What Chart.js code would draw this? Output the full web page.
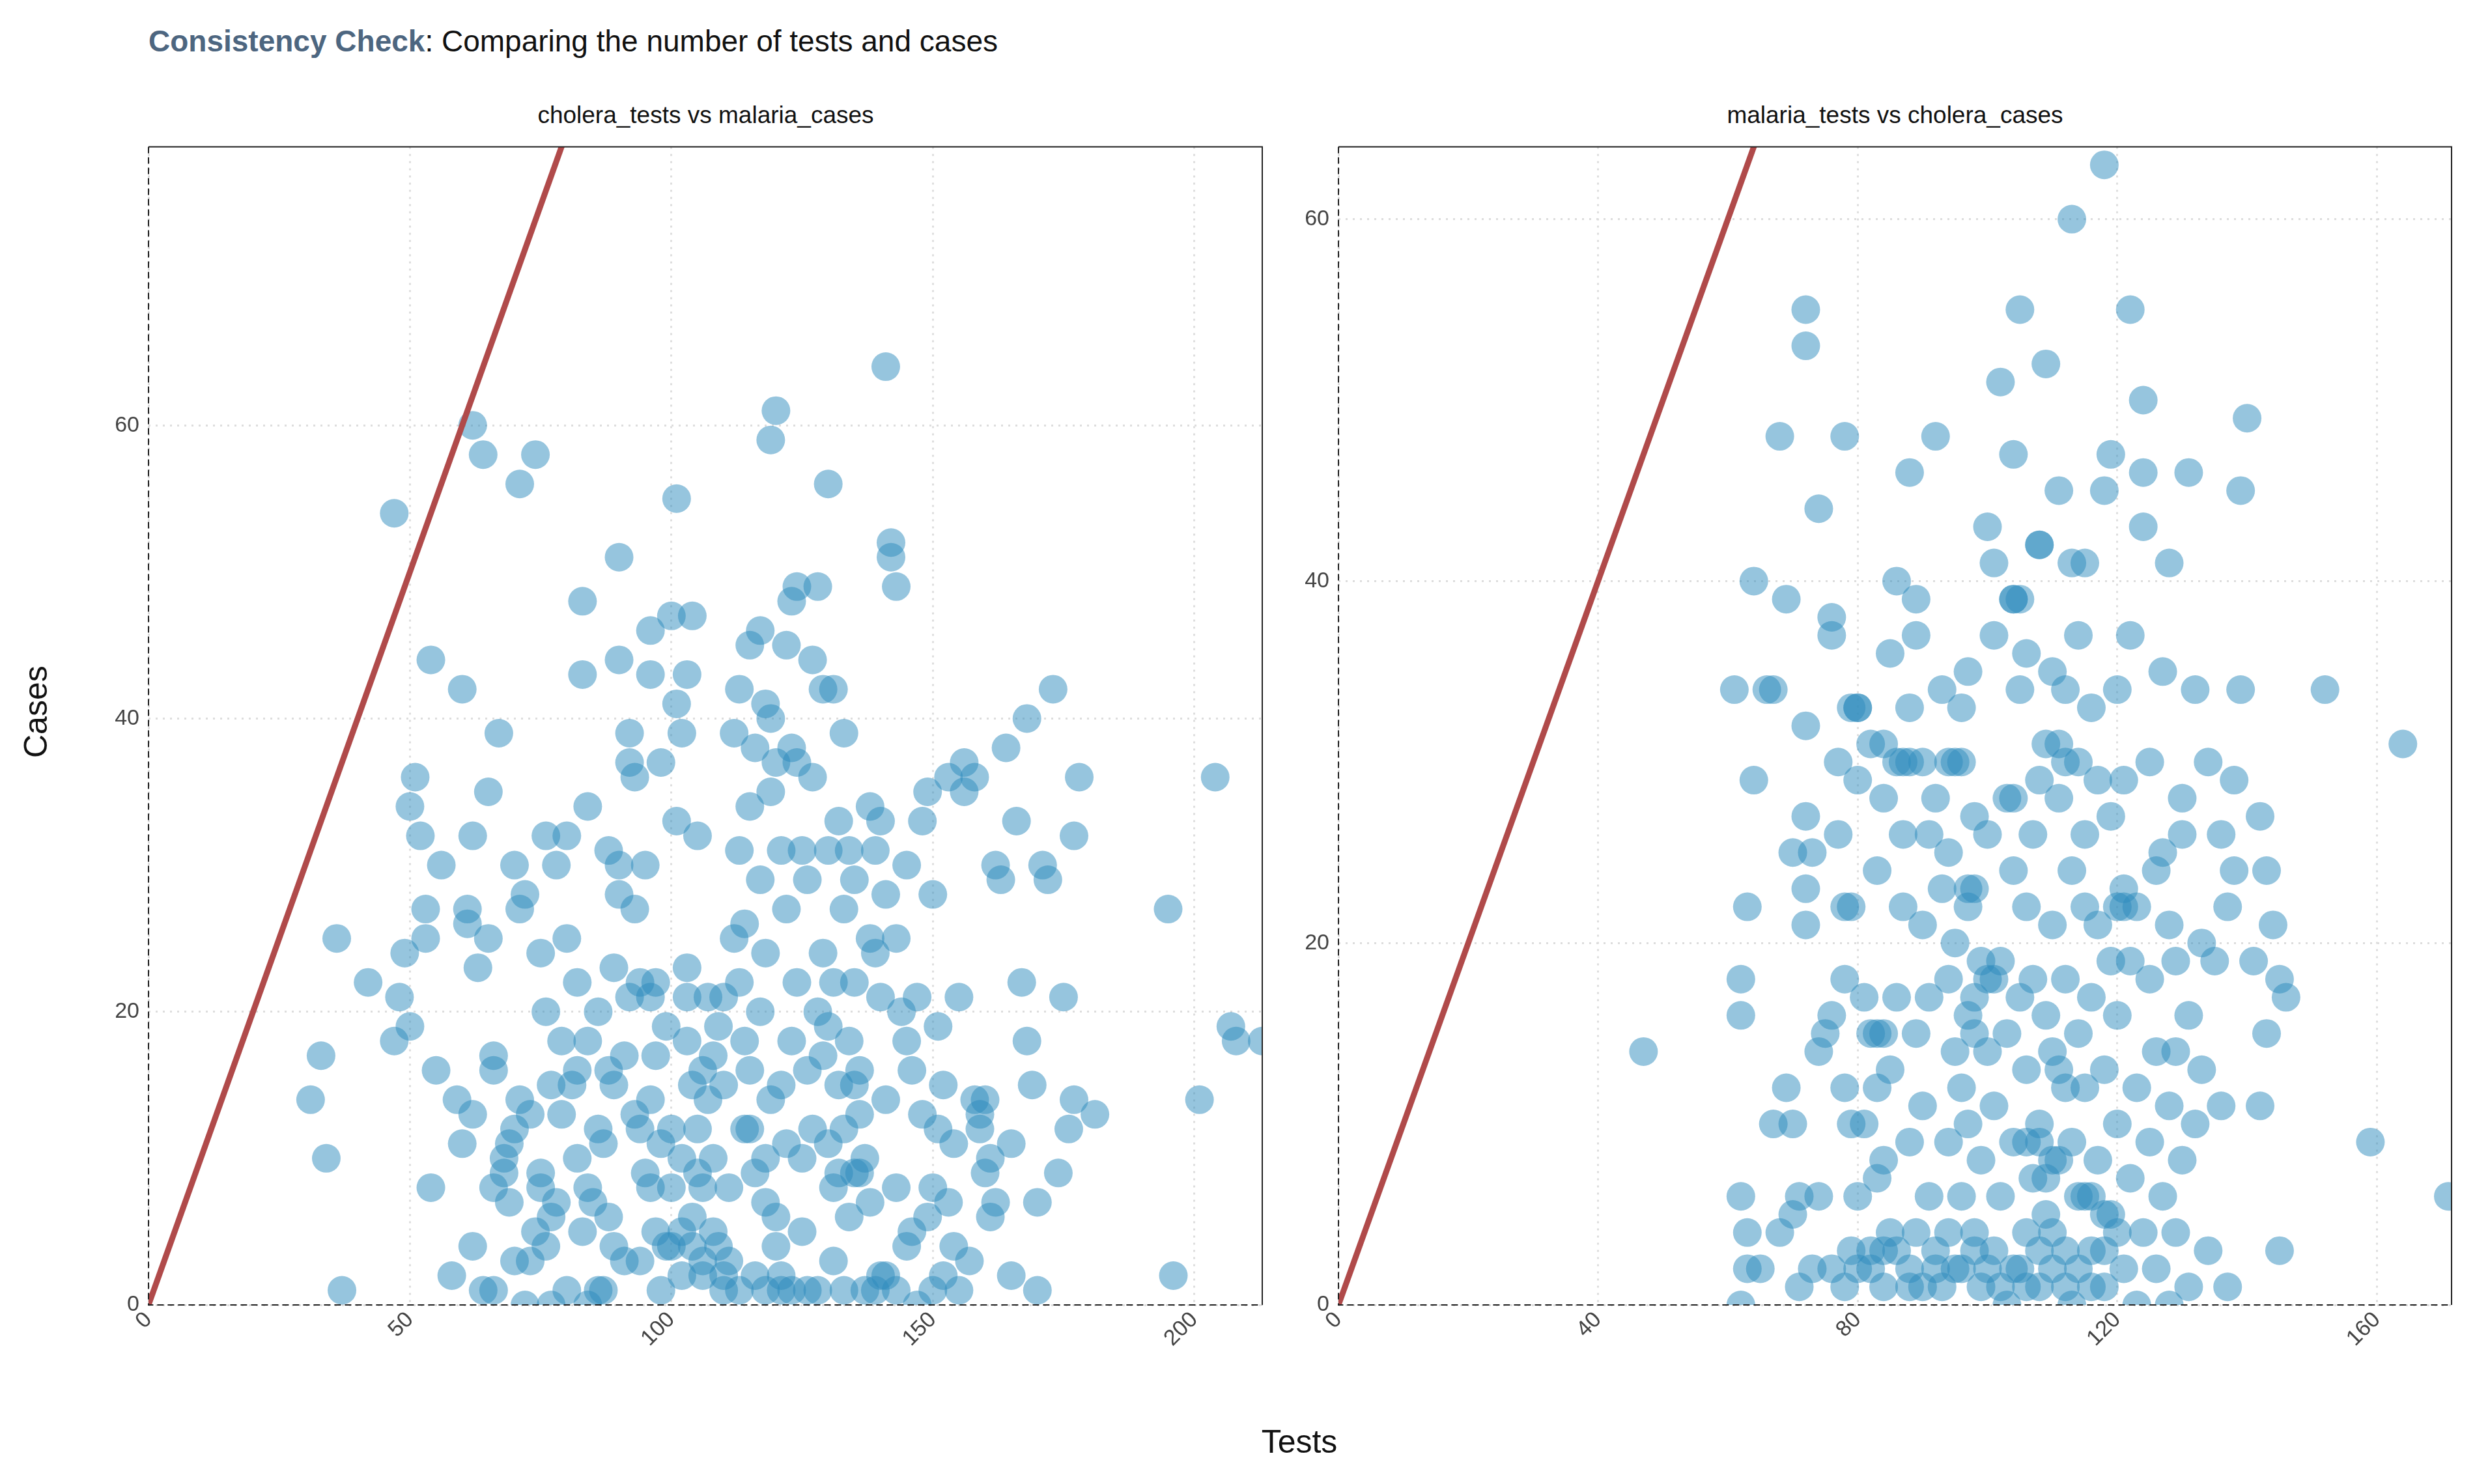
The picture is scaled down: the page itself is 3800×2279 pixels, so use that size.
<!DOCTYPE html>
<html><head><meta charset="utf-8">
<script src="https://cdn.jsdelivr.net/npm/chart.js@4"></script>
<style>
body{margin:0;width:3800px;height:2279px;background:#fff;position:relative;font-family:"Liberation Sans",Arial,sans-serif;overflow:hidden}
.abs{position:absolute;white-space:nowrap}
</style></head><body>
<div class="abs" style="left:228px;top:36px;font-size:46px;color:#111"><b style="color:#4d6680">Consistency Check</b>: Comparing the number of tests and cases</div>
<div class="abs" style="left:228px;width:1711px;top:156px;font-size:37px;text-align:center;color:#111">cholera_tests vs malaria_cases</div>
<div class="abs" style="left:2055px;width:1709px;top:156px;font-size:37px;text-align:center;color:#111">malaria_tests vs cholera_cases</div>
<div class="abs" style="left:0px;top:1080px;width:110px;text-align:center;font-size:50px;transform:rotate(-90deg);color:#111">Cases</div>
<div class="abs" style="left:0;width:3990px;top:2185px;text-align:center;font-size:50px;color:#111">Tests</div>
<div class="abs" style="left:0;top:191px;width:1960px;height:2013px"><canvas id="c1"></canvas></div>
<div class="abs" style="left:1960px;top:191px;width:1840px;height:2013px"><canvas id="c2"></canvas></div>
<script>
const leftPanelPoints = [[31,14],[33,17],[34,10],[36,25],[37,1],[42,22],[47,54],[47,18],[48,21],[49,24],[50,19],[50,34],[51,36],[52,32],[53,25],[53,27],[54,44],[54,8],[55,16],[56,30],[58,2],[59,14],[60,11],[60,42],[61,26],[61,27],[62,13],[62,60],[62,4],[62,32],[63,23],[64,1],[64,58],[65,35],[65,25],[66,1],[66,8],[66,17],[66,16],[67,39],[68,10],[68,9],[69,7],[69,11],[70,3],[70,12],[70,30],[71,56],[71,14],[71,27],[72,28],[72,0],[73,13],[73,3],[74,58],[74,5],[75,24],[75,8],[75,9],[76,20],[76,32],[76,4],[77,0],[77,15],[77,6],[78,7],[78,30],[79,18],[79,13],[80,32],[80,25],[80,1],[81,15],[82,22],[82,16],[82,10],[83,5],[83,43],[83,48],[84,34],[84,8],[84,18],[85,7],[86,20],[86,12],[87,1],[87,11],[88,6],[88,31],[88,16],[89,15],[89,23],[90,51],[90,28],[90,30],[90,44],[91,17],[92,39],[92,37],[92,21],[93,36],[93,27],[93,13],[94,22],[94,12],[95,9],[95,30],[96,46],[96,43],[96,21],[96,14],[97,17],[97,22],[97,5],[98,1],[98,37],[98,11],[99,19],[100,47],[100,4],[100,12],[100,8],[101,41],[101,33],[101,55],[102,10],[102,39],[102,2],[103,43],[103,18],[103,21],[103,23],[104,47],[104,15],[104,6],[105,32],[105,12],[105,9],[106,16],[106,8],[106,3],[107,21],[107,14],[108,10],[108,17],[108,5],[109,19],[110,21],[110,1],[110,15],[110,2],[111,8],[112,39],[112,25],[113,42],[113,31],[113,22],[114,18],[114,12],[114,26],[115,45],[115,34],[115,16],[116,38],[116,2],[116,9],[117,46],[117,29],[117,20],[118,41],[118,24],[118,7],[119,59],[119,40],[119,35],[119,14],[120,61],[120,37],[120,4],[120,6],[121,31],[121,1],[121,15],[122,45],[122,27],[122,11],[123,48],[123,38],[123,18],[124,49],[124,37],[124,22],[125,10],[125,31],[125,5],[126,29],[126,16],[127,44],[127,36],[127,12],[128,49],[128,20],[128,1],[129,42],[129,24],[129,17],[130,56],[130,31],[130,19],[130,11],[131,42],[131,22],[131,3],[132,33],[132,9],[132,15],[133,39],[133,27],[133,1],[134,31],[134,18],[134,6],[135,29],[135,22],[136,16],[136,13],[137,1],[137,10],[138,34],[138,25],[138,7],[139,31],[139,24],[140,33],[140,21],[140,2],[141,64],[141,28],[141,14],[142,51],[142,52],[143,49],[143,25],[143,8],[144,20],[145,30],[145,18],[145,4],[146,16],[147,21],[147,0],[148,33],[148,13],[149,35],[149,6],[150,28],[151,19],[151,12],[152,15],[152,2],[153,36],[154,11],[155,21],[155,1],[156,37],[156,35],[157,3],[158,36],[159,12],[160,9],[161,10],[162,7],[162,30],[163,29],[164,38],[165,11],[166,33],[167,22],[168,40],[168,18],[169,15],[170,1],[171,30],[172,29],[173,42],[174,9],[175,21],[176,12],[177,14],[177,32],[178,36],[181,13],[195,27],[196,2],[201,14],[204,36],[207,19],[208,18],[213,18],[135,15],[135,9],[136,9],[121,2],[123,1],[126,1],[139,1],[141,2],[143,1],[150,1],[153,7],[158,14],[159,13],[160,14],[118,10],[115,12],[111,3],[109,4],[106,2],[104,4],[102,5],[99,4],[96,8],[94,3],[91,3],[89,4],[86,1],[84,0],[118,1],[113,1],[131,8],[133,12],[146,5],[150,8],[154,4],[161,6],[165,2],[170,7]];
const rightPanelPoints = [[47,14],[61,34],[62,0],[62,6],[62,16],[62,18],[63,2],[63,4],[63,22],[64,29],[64,40],[65,2],[66,34],[67,10],[67,34],[68,4],[68,48],[69,12],[69,39],[70,5],[70,10],[70,25],[71,1],[71,6],[72,21],[72,23],[72,27],[72,32],[72,53],[72,55],[73,2],[73,25],[74,6],[74,14],[74,44],[75,15],[76,2],[76,16],[76,37],[76,38],[77,26],[77,30],[78,1],[78,12],[78,18],[78,22],[78,48],[79,3],[79,10],[79,22],[80,6],[80,29],[80,33],[81,10],[81,17],[82,3],[82,15],[82,31],[83,7],[83,24],[83,12],[84,1],[84,8],[84,31],[84,28],[85,4],[85,13],[85,36],[86,17],[86,30],[86,40],[87,22],[87,26],[88,1],[88,9],[88,46],[88,33],[89,4],[89,15],[89,39],[89,37],[90,11],[90,21],[90,30],[91,6],[91,17],[91,26],[92,3],[92,28],[92,48],[93,1],[93,23],[93,34],[94,9],[94,18],[94,25],[94,30],[95,2],[95,14],[95,20],[96,6],[96,12],[96,33],[97,10],[97,22],[97,35],[98,4],[98,17],[98,27],[99,1],[99,8],[99,19],[100,43],[100,14],[100,26],[101,3],[101,11],[101,37],[101,41],[102,6],[102,19],[102,51],[103,0],[103,15],[103,28],[104,9],[104,24],[104,47],[104,39],[105,2],[105,17],[105,34],[105,55],[106,4],[106,13],[106,22],[106,36],[107,7],[107,18],[107,26],[108,1],[108,10],[108,42],[108,29],[109,5],[109,16],[109,52],[109,31],[110,2],[110,21],[110,35],[111,8],[111,13],[111,45],[111,28],[112,3],[112,18],[112,34],[113,0],[113,9],[113,24],[113,41],[113,60],[114,6],[114,15],[114,30],[114,37],[115,12],[115,22],[115,26],[115,41],[116,3],[116,17],[116,33],[117,8],[117,29],[117,21],[118,1],[118,13],[118,45],[118,63],[119,5],[119,19],[119,47],[119,27],[120,10],[120,34],[120,16],[121,2],[121,23],[121,29],[122,7],[122,19],[122,55],[122,37],[123,0],[123,12],[123,22],[124,4],[124,43],[124,50],[124,46],[125,9],[125,18],[125,30],[126,2],[126,14],[126,24],[127,6],[127,35],[127,25],[128,0],[128,11],[128,41],[128,21],[129,4],[129,14],[129,19],[130,8],[130,28],[130,26],[131,1],[131,16],[131,46],[132,10],[132,34],[133,13],[133,20],[134,3],[134,30],[135,19],[136,11],[136,26],[137,1],[137,22],[138,24],[138,29],[139,34],[139,45],[140,49],[141,19],[142,27],[142,11],[143,15],[143,24],[144,21],[145,18],[145,3],[146,17],[152,34],[159,9],[164,31],[171,6],[80,2],[82,2],[84,3],[86,3],[88,2],[90,1],[92,2],[94,4],[96,2],[98,3],[100,2],[102,1],[104,2],[106,1],[108,3],[110,4],[112,1],[114,2],[116,1],[118,3],[120,4],[98,23],[97,23],[96,30],[95,30],[87,30],[88,30],[79,33],[80,33],[84,15],[83,15],[108,42],[105,39],[104,39],[112,30],[111,31],[120,22],[121,22],[104,28],[100,18],[101,18],[98,15],[97,16],[106,9],[108,9],[110,14],[112,12],[115,6],[116,6],[118,5],[110,8],[109,7]];
const refLine = [[0,0],[100,100]];
const leftXMax = 213, leftYMax = 79, rightXMax = 171.5, rightYMax = 64;

const frame = {id:'frame', afterDraw(c){const a=c.chartArea,x=c.ctx;x.save();x.strokeStyle='#222';x.lineWidth=2;
 x.beginPath();x.moveTo(a.left,a.top);x.lineTo(a.right,a.top);x.lineTo(a.right,a.bottom);x.stroke();
 x.setLineDash([10,6]);x.beginPath();x.moveTo(a.left,a.top);x.lineTo(a.left,a.bottom);x.lineTo(a.right,a.bottom);x.stroke();x.restore();}};

function make(id, pts, xmax, ymax, xstep, yw, padR){
  const filt = step => ax => {ax.ticks = ax.ticks.filter(t => Math.abs(t.value/step - Math.round(t.value/step))<1e-6);};
  new Chart(document.getElementById(id), {
    data:{datasets:[
      {type:'line', data:refLine.map(p=>({x:p[0],y:p[1]})), borderColor:'#b04a4a', borderWidth:9, pointRadius:0, order:0},
      {type:'scatter', data:pts.map(p=>({x:p[0],y:p[1]})), backgroundColor:'rgba(45,140,190,0.5)', borderWidth:0, pointRadius:22, pointHoverRadius:22, order:1}
    ]},
    options:{responsive:true, maintainAspectRatio:false, animation:false, events:[],
      layout:{padding:{left:0,right:padR,top:0,bottom:0}},
      plugins:{legend:{display:false}, tooltip:{enabled:false}},
      scales:{
        x:{type:'linear', min:0, max:xmax, afterBuildTicks:filt(xstep), afterFit(s){s.height=200;},
          ticks:{stepSize:xstep, minRotation:45, maxRotation:45, color:'#444', font:{size:34,family:'Liberation Sans'}},
          grid:{color:'#dddddd', lineWidth:3, drawTicks:false}, border:{display:false, dash:[3,8]}},
        y:{type:'linear', min:0, max:ymax, afterBuildTicks:filt(20), afterFit(s){s.width=yw;},
          ticks:{stepSize:20, padding:14, color:'#444', font:{size:34,family:'Liberation Sans'}},
          grid:{color:'#dddddd', lineWidth:3, drawTicks:false}, border:{display:false, dash:[3,8]}}
      }},
    plugins:[frame]
  });
}
make('c1', leftPanelPoints, leftXMax, leftYMax, 50, 228, 21);
make('c2', rightPanelPoints, rightXMax, rightYMax, 40, 95, 36);
</script></body></html>
